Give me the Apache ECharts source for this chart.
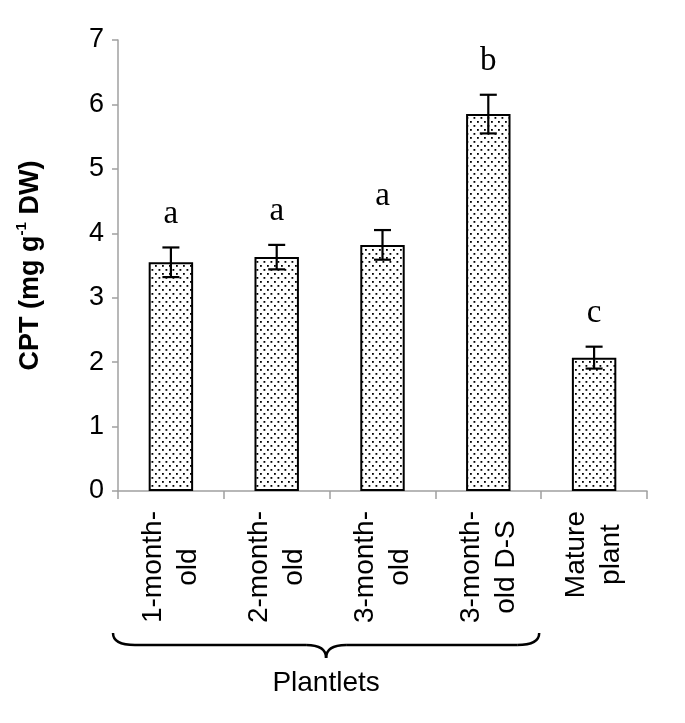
<!DOCTYPE html>
<html>
<head>
<meta charset="utf-8">
<script src="https://cdn.jsdelivr.net/npm/echarts@6/dist/echarts.min.js"></script>
<style>
  html, body { margin: 0; padding: 0; background: #fff; }
  #main { width: 685px; height: 723px; }
</style>
</head>
<body>
<div id="main"></div>
<script>
// data
var categories = ['1-month-\nold', '2-month-\nold', '3-month-\nold', '3-month-\nold D-S', 'Mature\nplant'];
var meanValues = [3.55, 3.63, 3.82, 5.85, 2.07];
var errorValues = [0.23, 0.19, 0.23, 0.30, 0.17];
var groupLetters = ['a', 'a', 'a', 'b', 'c'];
var groupName = 'Plantlets';
var yMin = 0, yMax = 7, yStep = 1;

// dotted fill
var tile = document.createElement('canvas');
tile.width = 7; tile.height = 8;
var tc = tile.getContext('2d');
tc.fillStyle = '#fff';
tc.fillRect(0, 0, 7, 8);
tc.fillStyle = '#000';
tc.fillRect(1, 1, 1.8, 1.8);
tc.fillRect(4.5, 5, 1.8, 1.8);

var sans = 'Liberation Sans, Arial, sans-serif';
var serif = 'Liberation Serif, Times New Roman, serif';

var chart = echarts.init(document.getElementById('main'));

var option = {
  animation: false,
  backgroundColor: '#fff',
  grid: { left: 118, right: 38, top: 40, bottom: 232 },
  xAxis: {
    type: 'category',
    data: categories,
    axisLine: { lineStyle: { color: '#a0a0a0', width: 1.5 } },
    axisTick: { show: true, length: 8, lineStyle: { color: '#a0a0a0', width: 1.5 } },
    axisLabel: {
      interval: 0,
      rotate: 90,
      margin: 20,
      formatter: function (v) {
        return v.split('\n').map(function (s) { return '{c|' + s + '}'; }).join('\n');
      },
      rich: {
        c: { align: 'center', fontFamily: sans, fontSize: 28, color: '#000', lineHeight: 35 }
      }
    }
  },
  yAxis: {
    type: 'value',
    min: yMin, max: yMax, interval: yStep,
    name: '{b|CPT (mg g}{s|-1}{b| DW)}',
    nameLocation: 'middle',
    nameGap: 70,
    nameRotate: 90,
    nameTextStyle: {
      rich: {
        b: { fontFamily: sans, fontWeight: 'bold', fontSize: 27, color: '#000', lineHeight: 34 },
        s: { fontFamily: sans, fontWeight: 'bold', fontSize: 15, color: '#000', lineHeight: 18, verticalAlign: 'top' }
      }
    },
    splitLine: { show: false },
    axisLine: { show: true, lineStyle: { color: '#a0a0a0', width: 1.5 } },
    axisTick: { show: true, length: 6, lineStyle: { color: '#a0a0a0', width: 1.5 } },
    axisLabel: { fontFamily: sans, fontSize: 27, color: '#000', margin: 14 }
  },
  series: [
    {
      type: 'bar',
      data: meanValues,
      barWidth: '42%',
      itemStyle: {
        color: { image: tile, repeat: 'repeat' },
        borderColor: '#000',
        borderWidth: 2
      }
    },
    {
      type: 'custom',
      data: meanValues.map(function (v, i) { return [i, v, errorValues[i]]; }),
      z: 10,
      renderItem: function (params, api) {
        var i = api.value(0), m = api.value(1), e = api.value(2);
        var top = api.coord([i, m + e]);
        var bot = api.coord([i, m - e]);
        var hw = 8.5;
        var ls = { stroke: '#000', lineWidth: 2.2 };
        return {
          type: 'group',
          children: [
            { type: 'line', shape: { x1: top[0], y1: top[1], x2: bot[0], y2: bot[1] }, style: ls },
            { type: 'line', shape: { x1: top[0] - hw, y1: top[1], x2: top[0] + hw, y2: top[1] }, style: ls },
            { type: 'line', shape: { x1: bot[0] - hw, y1: bot[1], x2: bot[0] + hw, y2: bot[1] }, style: ls },
            {
              type: 'text',
              style: {
                x: top[0], y: top[1] - 17,
                text: groupLetters[params.dataIndex],
                fill: '#000',
                font: '33px ' + serif,
                textAlign: 'center',
                textVerticalAlign: 'bottom'
              }
            }
          ]
        };
      }
    }
  ]
};
chart.setOption(option);

// brace under the plantlet groups
var c0 = chart.convertToPixel({ xAxisIndex: 0 }, 0);
var c1 = chart.convertToPixel({ xAxisIndex: 0 }, 1);
var c3 = chart.convertToPixel({ xAxisIndex: 0 }, 3);
var w = c1 - c0;
var base = chart.convertToPixel({ yAxisIndex: 0 }, 0);
var x0 = c0 - w / 2 - 5, x1 = c3 + w / 2 - 2, xm = (x0 + x1) / 2;
var y0 = base + 142, ym = base + 154, y1 = base + 167;
var bs = { stroke: '#000', lineWidth: 2.5, fill: null };

chart.setOption({
  graphic: [
    { type: 'bezierCurve', shape: { x1: x0, y1: y0, cpx1: x0, cpy1: ym, x2: x0 + 22, y2: ym }, style: bs },
    { type: 'line', shape: { x1: x0 + 22, y1: ym, x2: xm - 20, y2: ym }, style: bs },
    { type: 'bezierCurve', shape: { x1: xm - 20, y1: ym, cpx1: xm, cpy1: ym, x2: xm, y2: y1 }, style: bs },
    { type: 'bezierCurve', shape: { x1: xm, y1: y1, cpx1: xm, cpy1: ym, x2: xm + 20, y2: ym }, style: bs },
    { type: 'line', shape: { x1: xm + 20, y1: ym, x2: x1 - 22, y2: ym }, style: bs },
    { type: 'bezierCurve', shape: { x1: x1 - 22, y1: ym, cpx1: x1, cpy1: ym, x2: x1, y2: y0 }, style: bs },
    {
      type: 'text',
      x: xm, y: base + 192,
      style: { text: groupName, font: '28px ' + sans, fill: '#000', textAlign: 'center', textVerticalAlign: 'middle' }
    }
  ]
});
</script>
</body>
</html>
